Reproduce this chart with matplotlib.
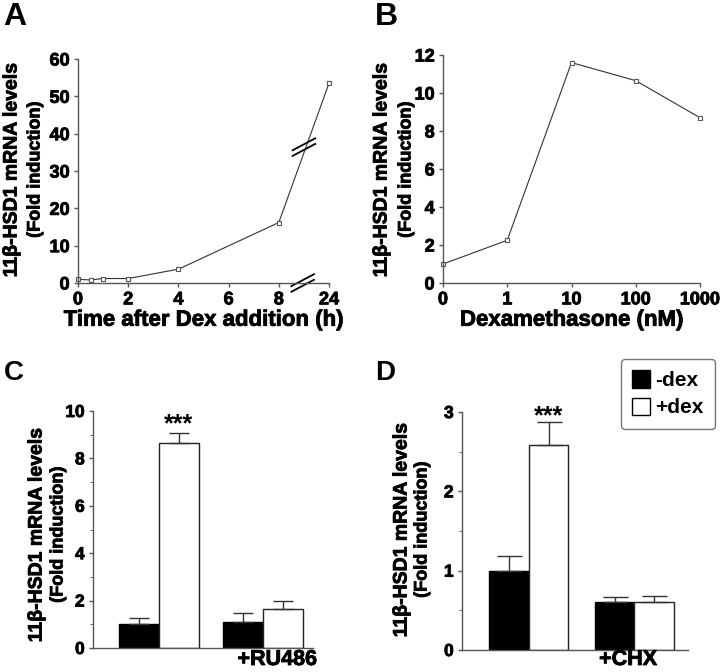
import matplotlib
matplotlib.use("Agg")
import matplotlib.pyplot as plt
import matplotlib.patheffects as pe
from matplotlib.patches import Patch

plt.rcParams['font.family'] = ['Liberation Sans', 'DejaVu Sans']
plt.rcParams['font.weight'] = 'bold'

# panel A: time course
time_labels = ['0', '2', '4', '6', '8', '24']
time_h = [0, 0.5, 1, 2, 4, 8, 24]
fold_time = [1.0, 0.8, 1.2, 1.2, 3.7, 16.2, 53.5]

# panel B: dose response
dex_labels = ['0', '1', '10', '100', '1000']
fold_dose = [1.0, 2.25, 11.6, 10.65, 8.7]

# panel C: RU486
c_minus = [1.0, 1.1]
c_minus_err = [0.25, 0.36]
c_plus = [8.65, 1.63]
c_plus_err = [0.42, 0.35]

# panel D: CHX
d_minus = [1.0, 0.6]
d_minus_err = [0.18, 0.065]
d_plus = [2.58, 0.605]
d_plus_err = [0.30, 0.08]

W, H = 720, 672
fig = plt.figure(figsize=(7.2, 6.72), dpi=100)
heavy = [pe.withStroke(linewidth=0.6, foreground='black')]


def px_axes(x0, y0, x1, y1):
    # pixel box (top-left origin) -> figure axes
    return fig.add_axes([x0 / W, 1 - y1 / H, (x1 - x0) / W, (y1 - y0) / H])


def style(ax, fs, xt, xl, yt):
    for s in ['top', 'right']:
        ax.spines[s].set_visible(False)
    for s in ['left', 'bottom']:
        ax.spines[s].set_color('#555555')
        ax.spines[s].set_linewidth(1)
    ax.tick_params(direction='out', length=3, width=1, color='#555555', pad=3)
    ax.set_xticks(xt, labels=xl, fontsize=fs, fontweight='bold',
                  path_effects=heavy)
    ax.set_yticks(yt, labels=[str(v) for v in yt], fontsize=fs,
                  fontweight='bold', path_effects=heavy)


def ylab(xc1, xc2, yc):
    fig.text(xc1 / W, 1 - yc / H, '11β-HSD1 mRNA levels', rotation=90,
             ha='center', va='center', fontsize=14, fontweight='bold',
             path_effects=heavy)
    fig.text(xc2 / W, 1 - yc / H, '(Fold induction)', rotation=90,
             ha='center', va='center', fontsize=13, fontweight='bold',
             path_effects=heavy)


line_kw = dict(color='#333333', lw=0.8, marker='s', ms=3.2, mfc='white',
               mec='#555555', mew=0.8)

# ---- A ----
axA = px_axes(78, 59, 329, 283)
pos_time = [t if t <= 8 else 10 for t in time_h]
axA.plot(pos_time, fold_time, clip_on=False, **line_kw)
axA.set_xlim(0, 10)
axA.set_ylim(0, 60)
style(axA, 13, [0, 2, 4, 6, 8, 10], time_labels, list(range(0, 61, 10)))
axA.set_xlabel('Time after Dex addition (h)', fontsize=16, fontweight='bold',
               labelpad=1, path_effects=heavy)
# break marks
for (bx, by) in [(9.0, 36.4), (8.95, 0.0)]:
    for dy in (-0.75, 0.75):
        axA.plot([bx - 0.45, bx + 0.45], [by + dy - 1.6, by + dy + 1.6],
                 color='black', lw=1.3, clip_on=False)
ylab(12, 35, 170)

# ---- B ----
axB = px_axes(443, 55, 700, 283)
axB.plot(range(len(fold_dose)), fold_dose, clip_on=False, **line_kw)
axB.set_xlim(0, 4)
axB.set_ylim(0, 12)
style(axB, 13, list(range(5)), dex_labels, list(range(0, 13, 2)))
axB.set_xlabel('Dexamethasone (nM)', fontsize=16, fontweight='bold',
               labelpad=1, path_effects=heavy)
ylab(382, 406, 170)


def bars(ax, minus, minus_err, plus, plus_err, centers, width, cap):
    xm = [c - width / 2 for c in centers]
    xp = [c + width / 2 for c in centers]
    ax.bar(xm, minus, width, color='black', edgecolor='black', lw=1)
    ax.bar(xp, plus, width, color='white', edgecolor='#222222', lw=1)
    ax.errorbar(xm, minus, yerr=[[0] * len(minus), minus_err], fmt='none',
                ecolor='#333333', elinewidth=1, capsize=cap, capthick=1)
    ax.errorbar(xp, plus, yerr=[[0] * len(plus), plus_err], fmt='none',
                ecolor='#333333', elinewidth=1, capsize=cap, capthick=1)
    return xp


# ---- C ----
axC = px_axes(93, 411, 313, 648)
xpC = bars(axC, c_minus, c_minus_err, c_plus, c_plus_err, [1.65, 4.25], 1.0, 7)
axC.set_xlim(0, 5.5)
axC.set_ylim(0, 10)
style(axC, 12.5, [], [], list(range(0, 11, 2)))
axC.set_yticks(range(1, 10, 2), minor=True)
axC.tick_params(which='minor', length=2.5, color='#555555')
axC.text(xpC[0], 8.95, '***', ha='center', va='bottom', fontsize=18,
         fontweight='bold')
fig.text(277 / W, 1 - 665 / H, '+RU486', ha='center', va='baseline',
         fontsize=15.5, fontweight='bold', path_effects=heavy)
ylab(37, 58, 535)

# ---- D ----
axD = px_axes(462, 412, 688, 650)
xpD = bars(axD, d_minus, d_minus_err, d_plus, d_plus_err, [1.69, 4.36], 1.0, 9)
axD.set_xlim(0, 5.72)
axD.set_ylim(0, 3)
style(axD, 12.5, [], [], list(range(0, 4)))
axD.set_yticks([0.5, 1.5, 2.5], minor=True)
axD.tick_params(which='minor', length=2.5, color='#555555')
axD.text(xpD[0], 2.80, '***', ha='center', va='bottom', fontsize=18,
         fontweight='bold', clip_on=False)
fig.text(628 / W, 1 - 665 / H, '+CHX', ha='center', va='baseline',
         fontsize=15.5, fontweight='bold', path_effects=heavy)
ylab(402, 422, 530)

handles = [Patch(facecolor='black', edgecolor='black', label='-dex'),
           Patch(facecolor='white', edgecolor='black', label='+dex')]
leg = fig.legend(handles=handles, loc='upper right',
                 bbox_to_anchor=(715 / W, 1 - 359 / H), borderaxespad=0,
                 prop={'weight': 'bold', 'size': 15},
                 handlelength=0.85, handleheight=0.9, handletextpad=0.25,
                 labelspacing=0.35, borderpad=0.55, fancybox=True,
                 edgecolor='#777777', framealpha=1)

# panel letters
for letter, x, y, fs in [('A', 3, 2, 23), ('B', 375, 2, 23),
                         ('C', 4, 360, 20), ('D', 375, 360, 20)]:
    fig.text(x / W, 1 - y / H, letter, ha='left', va='top', fontsize=fs,
             fontweight='bold')

fig.savefig('out.png', dpi=100)
